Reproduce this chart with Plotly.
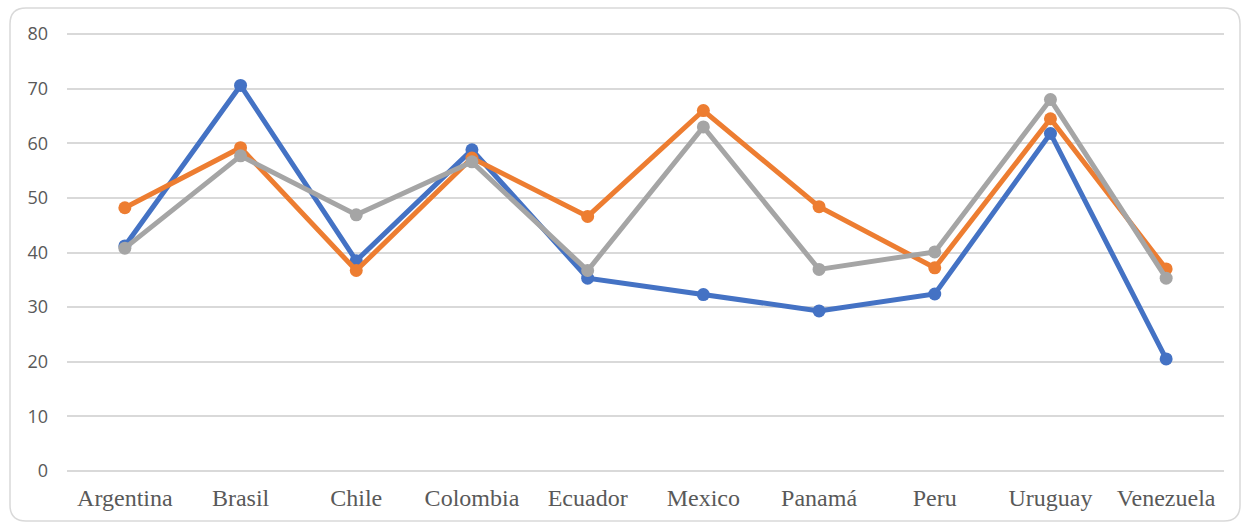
import plotly.graph_objects as go

# Country categories and the three series plotted against them
countries = ["Argentina", "Brasil", "Chile", "Colombia", "Ecuador",
             "Mexico", "Panamá", "Peru", "Uruguay", "Venezuela"]
series_blue = [41.2, 70.6, 38.5, 58.8, 35.3, 32.3, 29.3, 32.4, 61.8, 20.5]
series_orange = [48.2, 59.2, 36.7, 57.3, 46.6, 66.0, 48.4, 37.2, 64.5, 37.0]
series_gray = [40.8, 57.7, 46.9, 56.6, 36.7, 63.0, 36.9, 40.1, 68.0, 35.3]
y_ticks = [0, 10, 20, 30, 40, 50, 60, 70, 80]

W, H = 1247, 525
ML, MR, MT, MB = 67, 23, 33, 53
Y_RANGE = [-0.2, 80.2]

fig = go.Figure()
for vals, col in [(series_blue, "#4472C4"),
                  (series_orange, "#ED7D31"),
                  (series_gray, "#A5A5A5")]:
    fig.add_trace(go.Scatter(
        x=countries, y=vals, mode="lines+markers",
        line=dict(color=col, width=5),
        marker=dict(color=col, size=13),
        cliponaxis=False, showlegend=False, hoverinfo="x+y",
    ))

# Rounded outer frame, expressed in paper coordinates
pw, ph = W - ML - MR, H - MT - MB


def px(x):
    return (x - ML) / pw


def py(y):
    return (H - MB - y) / ph


x0, y0, x1, y1, r = 10, 8, 1240, 521, 16
path = (
    f"M {px(x0 + r)} {py(y0)} L {px(x1 - r)} {py(y0)} "
    f"Q {px(x1)} {py(y0)} {px(x1)} {py(y0 + r)} "
    f"L {px(x1)} {py(y1 - r)} "
    f"Q {px(x1)} {py(y1)} {px(x1 - r)} {py(y1)} "
    f"L {px(x0 + r)} {py(y1)} "
    f"Q {px(x0)} {py(y1)} {px(x0)} {py(y1 - r)} "
    f"L {px(x0)} {py(y0 + r)} "
    f"Q {px(x0)} {py(y0)} {px(x0 + r)} {py(y0)} Z"
)
fig.add_shape(type="path", xref="paper", yref="paper", path=path,
              line=dict(color="#D9D9D9", width=1.5), layer="below")

fig.update_layout(
    width=W, height=H,
    margin=dict(l=ML, r=MR, t=MT, b=MB),
    paper_bgcolor="white", plot_bgcolor="white",
    xaxis=dict(
        type="category", range=[-0.5, 9.5],
        showgrid=False, zeroline=False, showline=False,
        tickfont=dict(family="Liberation Serif, Times New Roman, serif",
                      size=24, color="#595959"),
        ticks="", ticklabelstandoff=9,
    ),
    yaxis=dict(
        range=Y_RANGE, tickvals=y_ticks,
        showgrid=True, gridcolor="#D9D9D9", gridwidth=1.5,
        zeroline=False, showline=False,
        tickfont=dict(family="Open Sans, Liberation Sans, sans-serif",
                      size=18, color="#595959"),
        ticks="", ticklabelstandoff=18,
    ),
)

fig.write_html("out.html")
